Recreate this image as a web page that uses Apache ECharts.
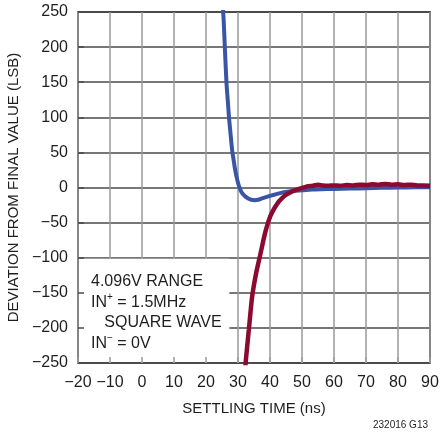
<!DOCTYPE html>
<html>
<head>
<meta charset="utf-8">
<script src="https://cdn.jsdelivr.net/npm/echarts@6/dist/echarts.min.js"></script>
<style>
html,body{margin:0;padding:0;background:#fff;}
#chart{width:440px;height:433px;}
</style>
</head>
<body>
<div id="chart"></div>
<script>
// ---- data ----
var xTicks = [-20, -10, 0, 10, 20, 30, 40, 50, 60, 70, 80, 90];
var yTicks = [-250, -200, -150, -100, -50, 0, 50, 100, 150, 200, 250];
var blueTime = [25.0,25.5,25.9,26.4,26.8,27.2,27.7,28.2,28.6,29.0,29.6,30.3,31.2,32.2,33.2,34.2,35.2,36.3,37.5,38.5,40,42,44,46,48,50,53,56,60,65,70,75,80,85,90];
var blueDev  = [275,240,198,149,124,99,75,52,40,28,14,2,-7.5,-12.5,-15.5,-17.5,-18,-17.5,-15.5,-14,-12,-9.5,-7,-5.5,-4.5,-4,-3,-2.5,-2,-1.5,-1,-0.5,0,0.5,0.5];
var redTime = [32.0,32.4,32.9,33.4,33.9,34.4,35.1,35.8,36.4,36.9,37.7,38.4,39.2,40,40.6,41.3,42,42.6,43.7,44.7,45.5,46.3,47.5,49,50.5,52,53.5,55,56.5,58,60,62,64,66,68,70,72,74,76,78,80,82,84,86,88,90];
var redDev  = [-275,-249,-225,-202,-178,-156,-136,-119,-107,-97,-80,-66,-53,-42,-36,-30,-25,-21,-15.5,-11.5,-9,-7,-4.5,-2,0,2,2.5,4,3,2.5,3,2.5,3.5,3,4,3.5,4.5,4,5,4,4.5,3.5,4,3,3,2.5];
var notes = ['4.096V RANGE', 'IN{sup|+} = 1.5MHz', '   SQUARE WAVE', 'IN{sup|\u2212} = 0V'];

function pairs(xs, ys){ return xs.map(function(x,i){ return [x, ys[i]]; }); }

var FONT = '"Liberation Sans", Arial, sans-serif';
var chart = echarts.init(document.getElementById('chart'), null, {renderer:'canvas'});
var grid = {left:78, top:12, right:10, bottom:70, show:true, borderColor:'#111', borderWidth:1.5,
  backgroundColor:'transparent', outerBoundsMode:'none', containLabel:false};
function fmt(v){ return v<0 ? '\u2212'+Math.abs(v) : String(v); }
var opt = {
  animation:false,
  grid: grid,
  xAxis: [{
    type:'value', min:xTicks[0], max:xTicks[xTicks.length-1], interval:10, position:'bottom',
    axisLine:{show:false, onZero:false}, axisTick:{show:false},
    splitLine:{show:true, lineStyle:{color:'#9a9a9a', width:1.5}},
    axisLabel:{color:'#1e1e1e', fontFamily:FONT, fontSize:16, margin:12, formatter:fmt},
    name:'SETTLING TIME (ns)', nameLocation:'middle', nameGap:38,
    nameTextStyle:{color:'#1e1e1e', fontFamily:FONT, fontSize:15}
  },{
    type:'value', min:xTicks[0], max:xTicks[xTicks.length-1], interval:10, position:'bottom', z:5,
    axisLine:{show:false, onZero:false}, axisLabel:{show:false}, splitLine:{show:false},
    axisTick:{show:true, inside:true, length:6, lineStyle:{color:'#9a9a9a', width:1.5}}
  }],
  yAxis: [{
    type:'value', min:yTicks[0], max:yTicks[yTicks.length-1], interval:50, position:'left',
    axisLine:{show:false, onZero:false}, axisTick:{show:false},
    splitLine:{show:true, lineStyle:{color:'#4a4a4a', width:1.5}},
    axisLabel:{color:'#1e1e1e', fontFamily:FONT, fontSize:16, margin:10, formatter:fmt},
    name:'DEVIATION FROM FINAL VALUE (LSB)', nameLocation:'middle', nameGap:57,
    nameTextStyle:{color:'#1e1e1e', fontFamily:FONT, fontSize:15}
  },{
    type:'value', min:yTicks[0], max:yTicks[yTicks.length-1], interval:50, position:'left', z:5,
    axisLine:{show:false, onZero:false}, axisLabel:{show:false}, splitLine:{show:false},
    axisTick:{show:true, inside:true, length:6, lineStyle:{color:'#4a4a4a', width:1.5}}
  }],
  series: [{
    type:'line', data:pairs(blueTime, blueDev), showSymbol:false, smooth:0.25, z:3,
    lineStyle:{color:'#3a55a6', width:4}
  },{
    type:'line', data:pairs(redTime, redDev), showSymbol:false, smooth:0.25, z:4,
    lineStyle:{color:'#8c0a30', width:4.5}
  }]
};
chart.setOption(opt);

var p0 = chart.convertToPixel({xAxisIndex:0, yAxisIndex:0}, [-20, -100]);
var p1 = chart.convertToPixel({xAxisIndex:0, yAxisIndex:0}, [27.3, -250]);
chart.setOption({
  graphic: [{
    type:'rect', z:1, silent:true,
    shape:{x:p0[0]+1, y:p0[1]+1, width:p1[0]-p0[0]-1, height:p1[1]-p0[1]-2},
    style:{fill:'#fff'}
  },{
    type:'text', z:6, left:p0[0]+13, top:p0[1]+14,
    style:{
      text: notes.join('\n'),
      font: '16px ' + FONT, fill:'#1e1e1e', lineHeight:20.5,
      rich:{ sup:{ fontSize:10, verticalAlign:'top', padding:[0,0,7,0], fontFamily:FONT, fill:'#1e1e1e', lineHeight:20.5 } }
    }
  },{
    type:'text', z:6, right:12, bottom:3,
    style:{ text:'232016 G13', font:'10px ' + FONT, fill:'#1e1e1e' }
  }]
});
</script>
</body>
</html>
